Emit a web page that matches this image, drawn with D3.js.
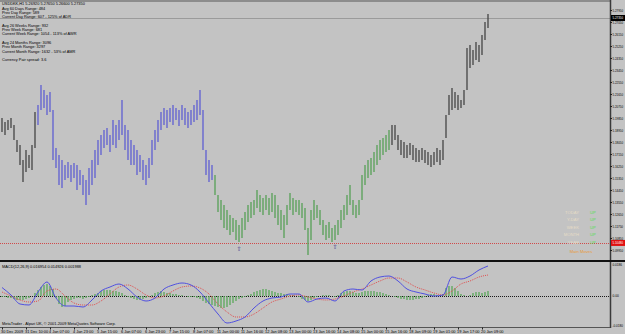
<!DOCTYPE html>
<html><head><meta charset="utf-8">
<script src="https://cdn.jsdelivr.net/npm/d3@7"></script>
<style>html,body{margin:0;padding:0;background:#c3c3c3;overflow:hidden}svg{display:block}</style>
</head><body><svg id="c" width="625" height="334"></svg>
<script>
// ---------------- data ----------------
const symbolLine = "USDDKK,H1  5.26920 5.27650 5.26600 5.27350";
const infoLines = [
  "Avg 60 Days Range: 484",
  "Prev Day Range: 589",
  "Current Day Range: 607 - 125% of ADR",
  "",
  "Avg 26 Weeks Range: 932",
  "Prev Week Range: 681",
  "Current Week Range: 1054 - 113% of AWR",
  "",
  "Avg 24 Months Range: 3096",
  "Prev Month Range: 3297",
  "Current Month Range: 1632 - 53% of AMR",
  "",
  "Currency Pair spread: 3.6"
];
const highs = [5.1985,5.1955,5.1970,5.1985,5.1933,5.1820,5.1783,5.1670,5.1745,5.1708,5.1783,5.2030,5.2083,5.2233,5.2195,5.2158,5.2180,5.2045,5.1760,5.1708,
5.1670,5.1633,5.1655,5.1633,5.1648,5.1633,5.1595,5.1558,5.1520,5.1610,5.1670,5.1745,5.1820,5.1858,5.1895,5.1910,5.1858,5.1970,5.1933,5.1970,
5.2120,5.1933,5.1895,5.1820,5.1783,5.1745,5.1708,5.1670,5.1633,5.1685,5.1820,5.1895,5.1970,5.2030,5.2060,5.2045,5.2060,5.2083,5.2060,5.2045,
5.2083,5.2060,5.2030,5.2045,5.2083,5.2120,5.2195,5.2045,5.1745,5.1670,5.1633,5.1558,5.1408,5.1370,5.1333,5.1295,5.1258,5.1235,5.1220,5.1183,
5.1235,5.1280,5.1333,5.1355,5.1370,5.1445,5.1408,5.1385,5.1408,5.1385,5.1423,5.1408,5.1333,5.1295,5.1258,5.1333,5.1423,5.1385,5.1370,5.1370,
5.1348,5.1310,5.1160,5.1295,5.1370,5.1333,5.1295,5.1220,5.1183,5.1205,5.1160,5.1183,5.1220,5.1295,5.1333,5.1408,5.1483,5.1370,5.1333,5.1370,
5.1558,5.1633,5.1670,5.1685,5.1730,5.1783,5.1820,5.1835,5.1858,5.1895,5.1933,5.1933,5.1858,5.1820,5.1805,5.1783,5.1798,5.1783,5.1760,5.1745,
5.1760,5.1745,5.1730,5.1708,5.1730,5.1760,5.1745,5.1820,5.2008,5.2158,5.2210,5.2180,5.2158,5.2120,5.2195,5.2510,5.2533,5.2495,5.2555,5.2533,
5.2608,5.2705,5.2765];
const lows = [5.1880,5.1858,5.1895,5.1910,5.1820,5.1730,5.1633,5.1505,5.1580,5.1610,5.1595,5.1760,5.1933,5.2045,5.2060,5.2008,5.2030,5.1670,5.1610,5.1483,
5.1460,5.1520,5.1535,5.1505,5.1535,5.1445,5.1483,5.1408,5.1333,5.1408,5.1483,5.1535,5.1633,5.1708,5.1760,5.1783,5.1730,5.1783,5.1760,5.1820,
5.1858,5.1745,5.1670,5.1633,5.1633,5.1558,5.1580,5.1520,5.1483,5.1535,5.1633,5.1745,5.1805,5.1895,5.1933,5.1910,5.1955,5.1933,5.1970,5.1925,
5.1970,5.1933,5.1910,5.1933,5.1955,5.1970,5.2008,5.1745,5.1558,5.1505,5.1520,5.1408,5.1280,5.1220,5.1160,5.1145,5.1108,5.1130,5.1070,5.1055,
5.1085,5.1145,5.1205,5.1235,5.1258,5.1310,5.1280,5.1258,5.1295,5.1258,5.1280,5.1235,5.1183,5.1145,5.1085,5.1183,5.1295,5.1258,5.1280,5.1258,
5.1235,5.1145,5.0958,5.1070,5.1220,5.1235,5.1183,5.1108,5.1070,5.1085,5.1055,5.1070,5.1108,5.1160,5.1220,5.1258,5.1333,5.1258,5.1235,5.1258,
5.1370,5.1483,5.1535,5.1558,5.1580,5.1633,5.1670,5.1708,5.1730,5.1745,5.1783,5.1820,5.1745,5.1708,5.1685,5.1685,5.1708,5.1670,5.1655,5.1655,
5.1670,5.1648,5.1633,5.1618,5.1633,5.1655,5.1633,5.1670,5.1835,5.2008,5.2045,5.2060,5.2045,5.2060,5.2083,5.2195,5.2360,5.2383,5.2420,5.2405,
5.2458,5.2570,5.2660];
const segStarts = [0, 12, 71, 130];            // bar index where each colour run begins
const segKinds  = ["neutral", "down", "up", "neutral"];
const priceTicks = [5.2795,5.2705,5.2615,5.2525,5.2435,5.2345,5.2255,5.2165,5.2075,5.1985,5.1895,
                    5.1805,5.1715,5.1625,5.1535,5.1445,5.1355,5.1265,5.1175,5.1085,5.0995];
const bidPrice = 5.2735;
const supportPrice = 5.1048;
const arrowBars = [79, 111];

const macdMain = [0.0051,0.0006,-0.0048,-0.0054,0.0024,0.0084,-0.0012,-0.0060,-0.0060,-0.0066,-0.0024,0.0030,0.0054,0.0072,0.0042,-0.0006,-0.0030,-0.0012,0.0042,0.0066,
0.0078,0.0066,0.0024,-0.0042,-0.0108,-0.0162,-0.0150,-0.0126,-0.0072,-0.0030,-0.0012,-0.0006,0.0012,0.0012,-0.0036,-0.0018,-0.0012,-0.0030,0.0030,0.0042,
0.0036,0.0090,0.0114,0.0120,0.0090,0.0042,0.0024,0.0012,0.0000,0.0006,0.0114,0.0102,0.0120,0.0156,0.0180];
const macdSignal = [0.0024,0.0000,-0.0024,-0.0036,-0.0030,0.0030,0.0042,0.0000,-0.0042,-0.0054,-0.0054,-0.0030,0.0012,0.0054,0.0066,0.0042,0.0006,-0.0012,0.0000,0.0030,
0.0054,0.0060,0.0048,0.0012,-0.0048,-0.0096,-0.0126,-0.0126,-0.0108,-0.0072,-0.0036,-0.0018,0.0000,0.0006,-0.0006,-0.0018,-0.0024,-0.0018,0.0000,0.0024,
0.0042,0.0066,0.0090,0.0108,0.0108,0.0084,0.0054,0.0036,0.0018,0.0006,0.0030,0.0072,0.0090,0.0114,0.0126];
const macdHist = [-0.0006,-0.0006,-0.0012,-0.0012,-0.0018,-0.0024,-0.0024,-0.0024,-0.0018,-0.0012,0,0.0018,
0.0036,0.0054,0.0066,0.0072,0.0060,0.0042,-0.0012,-0.0048,-0.0066,-0.0060,
-0.0036,-0.0024,-0.0018,-0.0012,-0.0012,-0.0018,-0.0012,-0.0006,0.0006,0.0012,0.0018,
0.0030,0.0036,0.0036,0.0036,0.0030,0.0030,0.0024,0.0018,0.0006,-0.0006,-0.0012,-0.0018,
-0.0024,-0.0024,-0.0018,-0.0012,-0.0006,0.0006,0.0018,0.0024,0.0030,0.0024,0.0018,
0.0018,0.0012,0.0012,0.0006,0.0006,0,-0.0006,-0.0006,-0.0006,-0.0012,-0.0018,
-0.0030,-0.0042,-0.0048,-0.0054,-0.0060,-0.0066,-0.0072,-0.0072,-0.0066,-0.0054,-0.0042,-0.0030,-0.0018,
-0.0012,-0.0006,0.0006,0.0012,0.0024,0.0030,0.0036,0.0042,0.0042,0.0036,0.0030,
0.0024,0.0018,0.0018,0.0012,0.0012,0.0006,0.0006,0,-0.0006,-0.0018,-0.0024,
-0.0030,-0.0024,-0.0012,-0.0006,0,0.0006,0.0006,0.0006,0,-0.0006,
0.0006,0.0018,0.0024,0.0030,0.0030,0.0024,0.0018,0.0018,0.0024,0.0030,
0.0030,0.0030,0.0030,0.0024,0.0024,0.0018,0.0012,0.0006,0,-0.0006,-0.0012,-0.0018,
-0.0018,-0.0024,-0.0024,-0.0024,-0.0018,-0.0018,-0.0012,-0.0006,
0.0006,0.0012,0.0012,0.0006,0.0006,0.0012,0.0048,0.0060,0.0060,0.0048,0.0030,0.0012,
0.0006,0,0.0006,0.0018,0.0024,0.0024,0.0018,0.0024,0.0030];
const macdTitle = "MACD(12,26,9) 0.016954 0.014926 0.001988";
const macdTickLabels = ["0.0186", "0.00", "-0.0180"];
const macdTickValues = [0.0186, 0, -0.0180];
const timeLabels = ["30 Dec 2009","31 Dec 10:00","4 Jan 07:00","4 Jan 23:00","5 Jan 15:00","6 Jan 07:00","6 Jan 23:00",
  "7 Jan 15:00","8 Jan 07:00","11 Jan 00:00","11 Jan 16:00","12 Jan 08:00","13 Jan 00:00","13 Jan 16:00",
  "14 Jan 08:00","15 Jan 00:00","15 Jan 16:00","18 Jan 09:00","19 Jan 01:00","19 Jan 17:00","20 Jan 09:00"];
const moveNames = ["TODAY","Y-DAY","WEEK","MONTH","YEAR"];
const moveDirs  = ["UP","UP","UP","UP","UP"];
const footer = "MetaTrader - Alpari UK, \u00A9 2001-2009 MetaQuotes Software Corp.";

// ---------------- drawing ----------------
const W = 625, H = 334, axisX = 610;
const svg = d3.select("#c");
const font = "'Liberation Sans', Arial, sans-serif";
const fs = 3.9;
const colors = {neutral: "#444444", down: "#5f5fd2", up: "#56a056"};

svg.append("rect").attr("width", W).attr("height", H).attr("fill", "#c3c3c3");

const x = d3.scaleLinear().domain([0, highs.length - 1]).range([2, 488]);
const y = d3.scaleLinear().domain([5.2870, 5.0920]).range([0, 260]);
const ym = d3.scaleLinear().domain([0.0186, -0.0180]).range([265, 326]);

// frame
svg.append("rect").attr("x", 0).attr("y", 0).attr("width", axisX).attr("height", 2).attr("fill", "#8c8c8c");

// bid line
svg.append("line").attr("x1", 0).attr("x2", axisX).attr("y1", Math.round(y(bidPrice)) + 0.5).attr("y2", Math.round(y(bidPrice)) + 0.5)
  .attr("stroke", "#9a9a9a").attr("stroke-width", 1);
// support line
svg.append("line").attr("x1", 0).attr("x2", axisX).attr("y1", Math.round(y(supportPrice)) + 0.5).attr("y2", Math.round(y(supportPrice)) + 0.5)
  .attr("stroke", "#d04a4a").attr("stroke-width", 1).attr("stroke-dasharray", "1,1");

// bars
const kindOf = i => segKinds[d3.bisectRight(segStarts, i) - 1];
svg.append("g").selectAll("line").data(highs).join("line")
  .attr("x1", (d, i) => x(i)).attr("x2", (d, i) => x(i))
  .attr("y1", d => y(d)).attr("y2", (d, i) => y(lows[i]))
  .attr("stroke", (d, i) => colors[kindOf(i)]).attr("stroke-width", 1.3);

// arrows
svg.append("g").selectAll("text").data(arrowBars).join("text")
  .attr("x", d => x(d)).attr("y", d => y(lows[d]) + 9)
  .attr("text-anchor", "middle").attr("font-family", "DejaVu Sans").attr("font-size", 6)
  .attr("fill", "#3a3a8c").text("\u21E7");

// info text
const info = svg.append("g").attr("font-family", font).attr("font-size", fs).attr("fill", "#000");
info.append("text").attr("x", 2).attr("y", 5.3).text(symbolLine);
infoLines.forEach((t, i) => { if (t) info.append("text").attr("x", 2).attr("y", 9.6 + i * 4.3).text(t); });

// moves panel
const mv = svg.append("g").attr("font-family", font).attr("font-size", 4.2);
moveNames.forEach((t, i) => {
  mv.append("text").attr("x", 579).attr("y", 213.5 + i * 7.5).attr("text-anchor", "end").attr("fill", "#e6dcc6").text(t);
  mv.append("text").attr("x", 590).attr("y", 213.5 + i * 7.5).attr("fill", "#55dd55").text(moveDirs[i]);
});
mv.append("text").attr("x", 581).attr("y", 253).attr("text-anchor", "middle").attr("fill", "#e89a3a").text("Main Moves");

// right axis
svg.append("line").attr("x1", axisX + 0.5).attr("x2", axisX + 0.5).attr("y1", 0).attr("y2", 328).attr("stroke", "#3a3a3a").attr("stroke-width", 1.5);
const ax = svg.append("g").attr("font-family", font).attr("font-size", 3.2);
const fitLabel = (g, xx, yy, txt, fill) => g.append("text").attr("x", xx).attr("y", yy).attr("fill", fill)
  .attr("textLength", Math.min(10.5, txt.length * 1.6)).attr("lengthAdjust", "spacingAndGlyphs").text(txt);
priceTicks.forEach(p => {
  const yy = Math.round(y(p)) + 0.5;
  ax.append("line").attr("x1", axisX).attr("x2", axisX + 2).attr("y1", yy).attr("y2", yy).attr("stroke", "#222");
  fitLabel(ax, 612.5, yy + 1.2, d3.format(".5f")(p), "#000");
});
ax.append("rect").attr("x", 611).attr("y", y(bidPrice) - 3).attr("width", 14).attr("height", 6).attr("fill", "#000");
fitLabel(ax, 612.5, y(bidPrice) + 1.2, d3.format(".5f")(bidPrice), "#fff");
ax.append("rect").attr("x", 611).attr("y", y(supportPrice) - 3).attr("width", 14).attr("height", 6).attr("fill", "#e01010");
fitLabel(ax, 612.5, y(supportPrice) + 1.2, d3.format(".5f")(supportPrice), "#fff");

// separator
svg.append("rect").attr("x", 0).attr("y", 260).attr("width", W).attr("height", 2).attr("fill", "#111");

// MACD panel
const mg = svg.append("g");
mg.append("line").attr("x1", 0).attr("x2", axisX).attr("y1", Math.round(ym(0)) + 0.5).attr("y2", Math.round(ym(0)) + 0.5)
  .attr("stroke", "#1a1a1a").attr("stroke-dasharray", "1,1");
mg.append("g").selectAll("line").data(macdHist).join("line")
  .attr("x1", (d, i) => x(i)).attr("x2", (d, i) => x(i))
  .attr("y1", ym(0)).attr("y2", d => ym(d))
  .attr("stroke", "#5aa85a").attr("stroke-width", 1.3);
const macdIdx = d3.range(0, highs.length, 3);
const line = d3.line().x((d, i) => x(macdIdx[i])).y(d => ym(d)).curve(d3.curveMonotoneX);
mg.append("path").attr("d", line(macdSignal)).attr("fill", "none").attr("stroke", "#e05050").attr("stroke-width", 1).attr("stroke-dasharray", "1,1");
mg.append("path").attr("d", line(macdMain)).attr("fill", "none").attr("stroke", "#5050e0").attr("stroke-width", 1);

mg.append("text").attr("x", 2).attr("y", 268).attr("font-family", font).attr("font-size", fs).attr("fill", "#000").text(macdTitle);
mg.append("text").attr("x", 2).attr("y", 325.3).attr("font-family", font).attr("font-size", fs).attr("fill", "#000").text(footer);
const mx = mg.append("g").attr("font-family", font).attr("font-size", 3.2);
macdTickValues.forEach((v, i) => fitLabel(mx, 612.5, ym(v) + 1.2, macdTickLabels[i], "#000"));

// bottom frame + time axis
svg.append("line").attr("x1", 0).attr("x2", axisX).attr("y1", 327.5).attr("y2", 327.5).attr("stroke", "#555");
const ta = svg.append("g").attr("font-family", font).attr("font-size", fs).attr("fill", "#000");
timeLabels.forEach((t, k) => {
  const xx = Math.round(x(k * 8)) + 0.5;
  ta.append("line").attr("x1", xx).attr("x2", xx).attr("y1", 327.5).attr("y2", 329.5).attr("stroke", "#222");
  ta.append("text").attr("x", xx - 1.5).attr("y", 333).text(t);
});
</script></body></html>
